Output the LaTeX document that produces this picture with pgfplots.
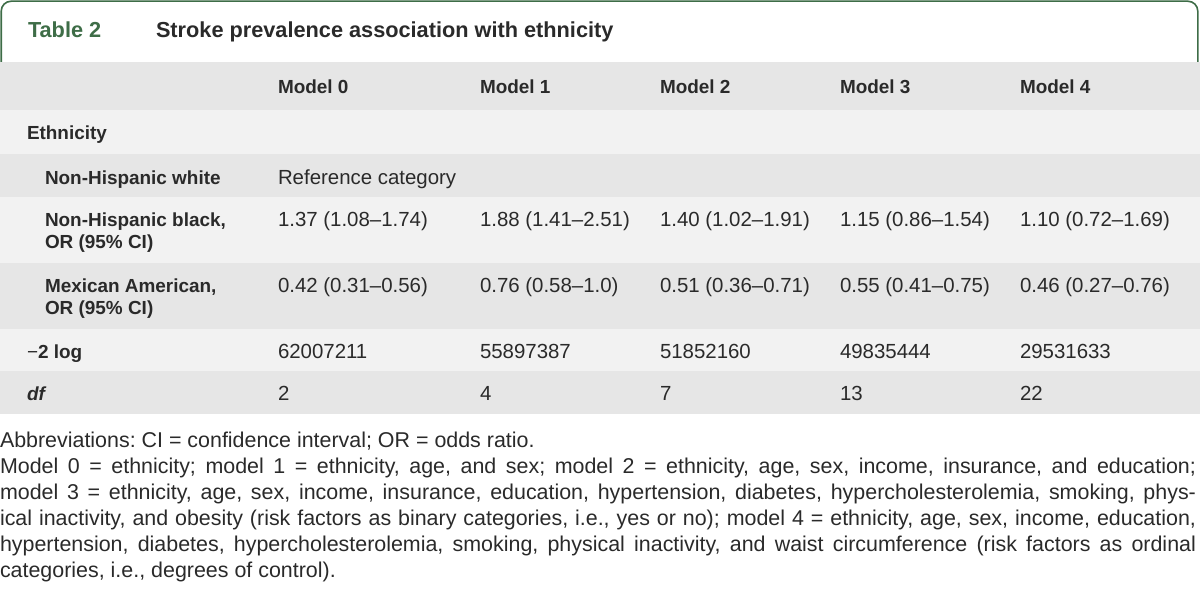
\documentclass[border=0pt]{standalone}
\usepackage{pgfplots}
\pgfplotsset{compat=1.18}
\usepackage{pgfplotstable}
\usepackage{fontspec}
\setmainfont{Liberation Sans}
\definecolor{grow}{HTML}{E6E6E6}
\definecolor{lrow}{HTML}{F2F2F2}
\definecolor{tgreen}{HTML}{3E6D47}
\definecolor{txt}{HTML}{2A2A2A}
\newcommand\jline[1]{\hbox to 1196bp{#1}}
\newcommand\fsb{\fontsize{19}{23}\selectfont}
\newcommand\fsv{\fontsize{20.5}{24}\selectfont}
\newcommand\fst{\fontsize{21.8}{26}\selectfont}
\newcommand\fsf{\fontsize{21.5}{26}\selectfont}
\newcommand\semi{;}

\pgfplotstableread{
x y label
28 38 {Table 2}
}\tabno
\pgfplotstableread{
x y label
156 38 {Stroke prevalence association with ethnicity}
}\titlecell
\pgfplotstableread{
x y label
278 93 {Model 0}
480 93 {Model 1}
660 93 {Model 2}
840 93 {Model 3}
1020 93 {Model 4}
27 139 {Ethnicity}
45 184 {Non-Hispanic white}
45 226 {Non-Hispanic black,}
45 248 {OR (95\% CI)}
45 292 {Mexican American,}
45 314 {OR (95\% CI)}
27 358 {{\mdseries −}2 log}
}\boldcells
\pgfplotstableread{
x y label
278 184 {Reference category}
278 226 {1.37 (1.08–1.74)}
480 226 {1.88 (1.41–2.51)}
660 226 {1.40 (1.02–1.91)}
840 226 {1.15 (0.86–1.54)}
1020 226 {1.10 (0.72–1.69)}
278 292 {0.42 (0.31–0.56)}
480 292 {0.76 (0.58–1.0)}
660 292 {0.51 (0.36–0.71)}
840 292 {0.55 (0.41–0.75)}
1020 292 {0.46 (0.27–0.76)}
278 358 {62007211}
480 358 {55897387}
660 358 {51852160}
840 358 {49835444}
1020 358 {29531633}
278 400 {2}
480 400 {4}
660 400 {7}
840 400 {13}
1020 400 {22}
}\valcells
\pgfplotstableread{
x y label
27 400 {df}
}\italcells
\pgfplotstableread{
x y label
0 447 {Abbreviations: CI = confidence interval\semi{} OR = odds ratio.}
0 473 {\jline{Model 0 = ethnicity\semi{} model 1 = ethnicity, age, and sex\semi{} model 2 = ethnicity, age, sex, income, insurance, and education\semi}}
0 499 {\jline{model 3 = ethnicity, age, sex, income, insurance, education, hypertension, diabetes, hypercholesterolemia, smoking, phys-}}
0 525 {\jline{ical inactivity, and obesity (risk factors as binary categories, i.e., yes or no)\semi{} model 4 = ethnicity, age, sex, income, education,}}
0 551 {\jline{hypertension, diabetes, hypercholesterolemia, smoking, physical inactivity, and waist circumference (risk factors as ordinal}}
0 577 {categories, i.e., degrees of control).}
}\footcells

\begin{document}
\frenchspacing
\begin{tikzpicture}
\begin{axis}[
  width=1200bp, height=605bp, scale only axis,
  xmin=0, xmax=1200, ymin=0, ymax=605, y dir=reverse,
  axis lines=none, clip=false,
  celltext/.style={draw=none, mark=none, nodes near coords,
    point meta=explicit symbolic,
    every node near coord/.append style={anchor=base west, inner sep=0pt, outer sep=0pt, text=txt}},
]
% page background
\addplot[fill=white, draw=none, mark=none] coordinates {(0,0) (1200,0) (1200,605) (0,605)} -- cycle;
% row backgrounds
\addplot[fill=grow, draw=none, mark=none] coordinates {(0,62) (1200,62) (1200,110) (0,110)} -- cycle;
\addplot[fill=lrow, draw=none, mark=none] coordinates {(0,110) (1200,110) (1200,154) (0,154)} -- cycle;
\addplot[fill=grow, draw=none, mark=none] coordinates {(0,154) (1200,154) (1200,197) (0,197)} -- cycle;
\addplot[fill=lrow, draw=none, mark=none] coordinates {(0,197) (1200,197) (1200,263) (0,263)} -- cycle;
\addplot[fill=grow, draw=none, mark=none] coordinates {(0,263) (1200,263) (1200,329) (0,329)} -- cycle;
\addplot[fill=lrow, draw=none, mark=none] coordinates {(0,329) (1200,329) (1200,371) (0,371)} -- cycle;
\addplot[fill=grow, draw=none, mark=none] coordinates {(0,371) (1200,371) (1200,414) (0,414)} -- cycle;
% green title frame
\addplot[tgreen, line width=1.6bp, rounded corners=10bp, mark=none] coordinates {(1.2,62) (1.2,1.2) (1197.8,1.2) (1197.8,62)};
% texts
\addplot[celltext, every node near coord/.append style={font=\fst\bfseries, text=tgreen}] table[meta=label] {\tabno};
\addplot[celltext, every node near coord/.append style={font=\fst\bfseries}] table[meta=label] {\titlecell};
\addplot[celltext, every node near coord/.append style={font=\fsb\bfseries}] table[meta=label] {\boldcells};
\addplot[celltext, every node near coord/.append style={font=\fsv}] table[meta=label] {\valcells};
\addplot[celltext, every node near coord/.append style={font=\fsb\bfseries\itshape}] table[meta=label] {\italcells};
\addplot[celltext, every node near coord/.append style={font=\fsf}] table[meta=label] {\footcells};
\end{axis}
\end{tikzpicture}
\end{document}
